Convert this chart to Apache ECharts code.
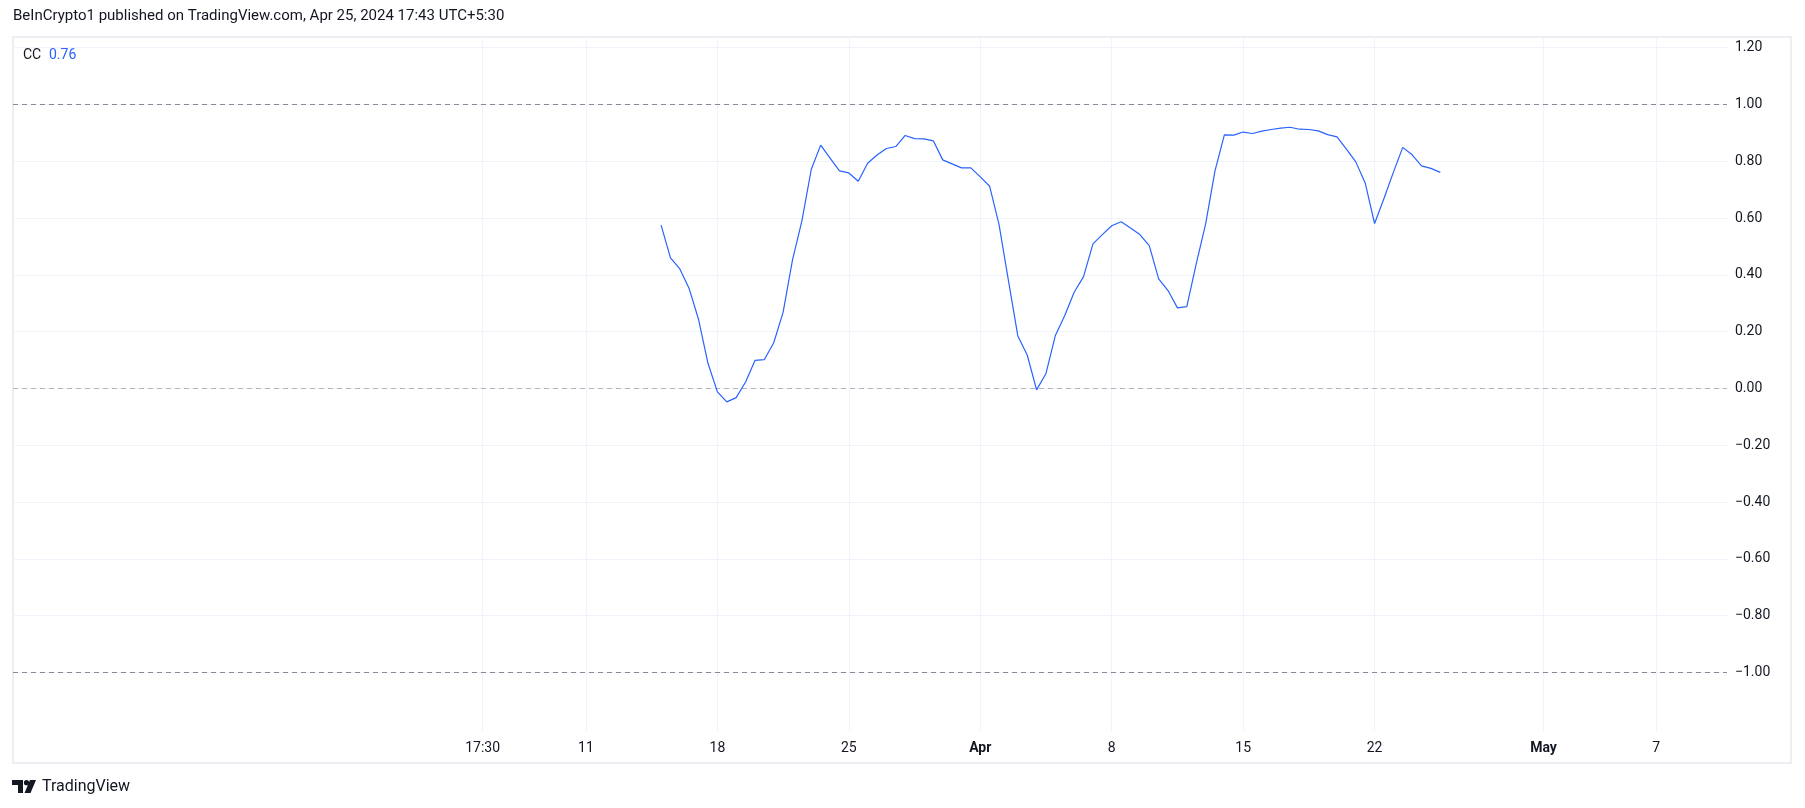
<!DOCTYPE html>
<html>
<head>
<meta charset="utf-8">
<script src="https://cdn.jsdelivr.net/npm/echarts@6/dist/echarts.min.js"></script>
<style>
html,body{margin:0;padding:0;background:#fff;}
#chart{width:1805px;height:808px;}
</style>
</head>
<body>
<div id="chart"></div>
<script>
// 12h bars (UTC)
const dates = [
 '2024-03-15 00:00','2024-03-15 12:00','2024-03-16 00:00','2024-03-16 12:00','2024-03-17 00:00','2024-03-17 12:00',
 '2024-03-18 00:00','2024-03-18 12:00','2024-03-19 00:00','2024-03-19 12:00','2024-03-20 00:00','2024-03-20 12:00',
 '2024-03-21 00:00','2024-03-21 12:00','2024-03-22 00:00','2024-03-22 12:00','2024-03-23 00:00','2024-03-23 12:00',
 '2024-03-24 00:00','2024-03-24 12:00','2024-03-25 00:00','2024-03-25 12:00','2024-03-26 00:00','2024-03-26 12:00',
 '2024-03-27 00:00','2024-03-27 12:00','2024-03-28 00:00','2024-03-28 12:00','2024-03-29 00:00','2024-03-29 12:00',
 '2024-03-30 00:00','2024-03-30 12:00','2024-03-31 00:00','2024-03-31 12:00','2024-04-01 00:00','2024-04-01 12:00',
 '2024-04-02 00:00','2024-04-02 12:00','2024-04-03 00:00','2024-04-03 12:00','2024-04-04 00:00','2024-04-04 12:00',
 '2024-04-05 00:00','2024-04-05 12:00','2024-04-06 00:00','2024-04-06 12:00','2024-04-07 00:00','2024-04-07 12:00',
 '2024-04-08 00:00','2024-04-08 12:00','2024-04-09 00:00','2024-04-09 12:00','2024-04-10 00:00','2024-04-10 12:00',
 '2024-04-11 00:00','2024-04-11 12:00','2024-04-12 00:00','2024-04-12 12:00','2024-04-13 00:00','2024-04-13 12:00',
 '2024-04-14 00:00','2024-04-14 12:00','2024-04-15 00:00','2024-04-15 12:00','2024-04-16 00:00','2024-04-16 12:00',
 '2024-04-17 00:00','2024-04-17 12:00','2024-04-18 00:00','2024-04-18 12:00','2024-04-19 00:00','2024-04-19 12:00',
 '2024-04-20 00:00','2024-04-20 12:00','2024-04-21 00:00','2024-04-21 12:00','2024-04-22 00:00','2024-04-22 12:00',
 '2024-04-23 00:00','2024-04-23 12:00','2024-04-24 00:00','2024-04-24 12:00','2024-04-25 00:00','2024-04-25 12:00'
];
const ccValues = [
 0.575,0.46,0.421,0.351,0.242,0.088,-0.012,-0.047,-0.032,0.023,
 0.099,0.102,0.161,0.269,0.453,0.59,0.772,0.857,0.811,0.766,
 0.759,0.730,0.793,0.822,0.845,0.852,0.891,0.880,0.879,0.872,
 0.805,0.791,0.777,0.777,0.745,0.712,0.577,0.38,0.185,0.118,
 -0.005,0.053,0.187,0.257,0.339,0.394,0.509,0.542,0.573,0.587,
 0.565,0.542,0.503,0.386,0.345,0.284,0.288,0.439,0.579,0.766,
 0.893,0.892,0.903,0.898,0.906,0.912,0.917,0.920,0.913,0.912,
 0.907,0.894,0.886,0.843,0.798,0.724,0.581,0.669,0.761,0.849,
 0.823,0.784,0.775,0.761
];
const xTickDates = ['2024-03-05 11:50','2024-03-11 00:00','2024-03-18 00:00','2024-03-25 00:00','2024-04-01 00:00',
 '2024-04-08 00:00','2024-04-15 00:00','2024-04-22 00:00','2024-05-01 00:00','2024-05-07 00:00'];
const xTickLabels = ['17:30','11','18','25','Apr','8','15','22','May','7'];
const boldLabels = ['Apr','May'];
const yTicks = [-1.0,-0.8,-0.6,-0.4,-0.2,0.0,0.2,0.4,0.6,0.8,1.0,1.2];
const levelLines = [1.0, 0.0, -1.0];
const legendName = 'CC';
const legendValue = '0.76';
const titleText = 'BeInCrypto1 published on TradingView.com, Apr 25, 2024 17:43 UTC+5:30';

const parseT = s => Date.parse(s.replace(' ', 'T') + ':00Z');
const DAY = 86400000;
const X0 = parseT('2024-03-11 00:00');
const seriesData = dates.map((d, i) => [parseT(d), ccValues[i]]);
const tickVals = xTickDates.map(parseT);

const chart = echarts.init(document.getElementById('chart'), null, {renderer: 'canvas'});
const FONT = 'Roboto, "Liberation Sans", sans-serif';
const TXT = '#131722';

chart.setOption({
  backgroundColor: '#ffffff',
  animation: false,
  textStyle: {fontFamily: FONT},
  grid: {left: 13, right: 78, top: 37, bottom: 77, containLabel: false},
  xAxis: {
    type: 'value',
    min: X0 - 30.517 * DAY,
    max: X0 + 60.77 * DAY,
    axisLine: {show: false},
    axisTick: {show: false, customValues: tickVals},
    splitLine: {show: true, lineStyle: {color: '#f0f3fa', width: 1}},
    axisLabel: {
      customValues: tickVals,
      margin: 10,
      fontSize: 14,
      color: TXT,
      fontFamily: FONT,
      formatter: function (v) {
        let best = 0, bd = Infinity;
        tickVals.forEach((t, i) => { const dd = Math.abs(t - v); if (dd < bd) { bd = dd; best = i; } });
        const lab = xTickLabels[best];
        return boldLabels.indexOf(lab) >= 0 ? '{b|' + lab + '}' : lab;
      },
      rich: {b: {fontWeight: 'bold', fontSize: 14, color: TXT, fontFamily: FONT}}
    }
  },
  yAxis: {
    type: 'value',
    position: 'right',
    min: -1.206,
    max: 1.2377,
    axisLine: {show: false},
    axisTick: {show: false, customValues: yTicks},
    splitLine: {show: true, lineStyle: {color: '#f0f3fa', width: 1}},
    axisLabel: {
      customValues: yTicks,
      margin: 8,
      align: 'left',
      fontSize: 14,
      color: TXT,
      fontFamily: FONT,
      formatter: function (v) {
        const s = Math.abs(v).toFixed(2);
        return (v < -1e-9 ? '\u2212' : '') + s;
      }
    }
  },
  series: [{
    type: 'line',
    data: seriesData,
    showSymbol: false,
    symbol: 'none',
    lineStyle: {color: '#2962ff', width: 1.2},
    z: 5,
    markLine: {
      silent: true,
      symbol: ['none', 'none'],
      label: {show: false},
      data: levelLines.map(v => ({
        yAxis: v,
        lineStyle: {color: v === 0 ? '#b2b5be' : '#888b94', type: [5, 4], width: 1}
      }))
    }
  }],
  graphic: [
    {type: 'rect', shape: {x: 13, y: 37, width: 1778, height: 726}, style: {fill: 'none', stroke: '#eceef3', lineWidth: 2}, z: -1, silent: true},
    {type: 'text', left: 13, top: 9, style: {text: titleText, fontSize: 15, fill: TXT, fontFamily: FONT}},
    {type: 'text', left: 23, top: 48, style: {text: legendName, fontSize: 14, fill: TXT, fontFamily: FONT}},
    {type: 'text', left: 49, top: 48, style: {text: legendValue, fontSize: 14, fill: '#2962ff', fontFamily: FONT}},
    // TradingView logo
    {type: 'group', left: 12, top: 780, children: [
      {type: 'polygon', shape: {points: [[0,0],[11,0],[11,13],[6,13],[6,5],[0,5]]}, style: {fill: TXT}},
      {type: 'circle', shape: {cx: 14.5, cy: 2.7, r: 2.6}, style: {fill: TXT}},
      {type: 'polygon', shape: {points: [[18,0],[24,0],[18.5,13],[12.5,13]]}, style: {fill: TXT}}
    ]},
    {type: 'text', left: 42, top: 779, style: {text: 'TradingView', fontSize: 16, fill: TXT, fontFamily: FONT}}
  ]
});
</script>
</body>
</html>
